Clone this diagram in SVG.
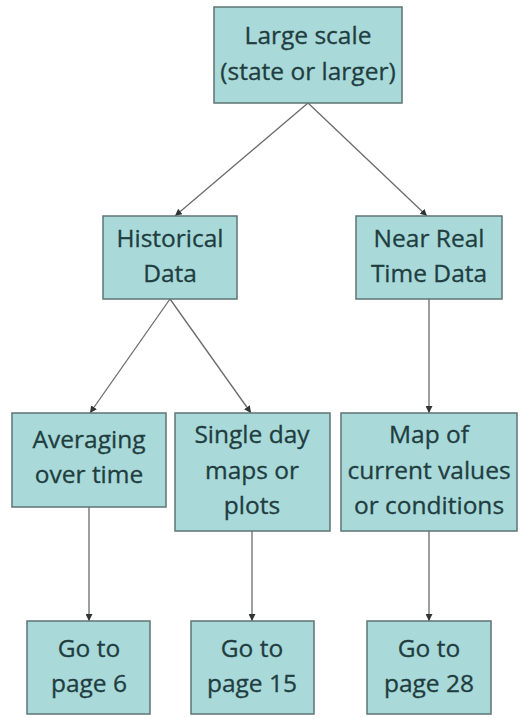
<svg xmlns="http://www.w3.org/2000/svg" width="529" height="719" viewBox="0 0 529 719">
<defs>
<style>
.box{fill:#a9d9d9;stroke:#5f7474;stroke-width:1.5}
.t{font-family:"Open Sans","Noto Sans",sans-serif;font-size:24.5px;fill:#213d3f;stroke:#213d3f;stroke-width:0.3;text-anchor:middle}
.c{stroke:#6b6b6b;stroke-width:1.3;fill:none;marker-end:url(#ah)}
</style>
<marker id="ah" viewBox="0 0 10 10" refX="10" refY="5" markerWidth="7" markerHeight="7" orient="auto" markerUnits="userSpaceOnUse">
<path d="M0,0 L10,5 L0,10 z" fill="#2f3535"/>
</marker>
</defs>
<rect width="529" height="719" fill="#ffffff"/>
<g id="connectors">
<line class="c" x1="308" y1="103" x2="175" y2="216"/>
<line class="c" x1="308" y1="103" x2="427" y2="216"/>
<line class="c" x1="170" y1="299" x2="90" y2="413"/>
<line class="c" x1="170" y1="299" x2="251" y2="413"/>
<line class="c" x1="429" y1="299" x2="429" y2="413"/>
<line class="c" x1="89" y1="507" x2="89" y2="621"/>
<line class="c" x1="252" y1="531" x2="252" y2="621"/>
<line class="c" x1="429" y1="531" x2="429" y2="621"/>
</g>
<g id="n-large">
<rect class="box" x="214" y="7" width="188" height="96"/>
<text class="t" x="308" y="44">Large scale</text>
<text class="t" x="308" y="80">(state or larger)</text>
</g>
<g id="n-historical">
<rect class="box" x="103" y="216" width="134" height="83"/>
<text class="t" x="170" y="247">Historical</text>
<text class="t" x="170" y="282">Data</text>
</g>
<g id="n-nrt">
<rect class="box" x="356" y="216" width="146" height="83"/>
<text class="t" x="429" y="247">Near Real</text>
<text class="t" x="429" y="282">Time Data</text>
</g>
<g id="n-avg">
<rect class="box" x="12" y="413" width="154" height="94"/>
<text class="t" x="89" y="448">Averaging</text>
<text class="t" x="89" y="483">over time</text>
</g>
<g id="n-single">
<rect class="box" x="175" y="413" width="155" height="118"/>
<text class="t" x="252" y="443">Single day</text>
<text class="t" x="252" y="479">maps or</text>
<text class="t" x="252" y="514">plots</text>
</g>
<g id="n-map">
<rect class="box" x="341" y="413" width="176" height="118"/>
<text class="t" x="429" y="443">Map of</text>
<text class="t" x="429" y="479">current values</text>
<text class="t" x="429" y="514">or conditions</text>
</g>
<g id="n-p6">
<rect class="box" x="27" y="621" width="123" height="93"/>
<text class="t" x="89" y="657">Go to</text>
<text class="t" x="89" y="692">page 6</text>
</g>
<g id="n-p15">
<rect class="box" x="191" y="621" width="123" height="93"/>
<text class="t" x="252" y="657">Go to</text>
<text class="t" x="252" y="692">page 15</text>
</g>
<g id="n-p28">
<rect class="box" x="367" y="621" width="124" height="93"/>
<text class="t" x="429" y="657">Go to</text>
<text class="t" x="429" y="692">page 28</text>
</g>
</svg>
